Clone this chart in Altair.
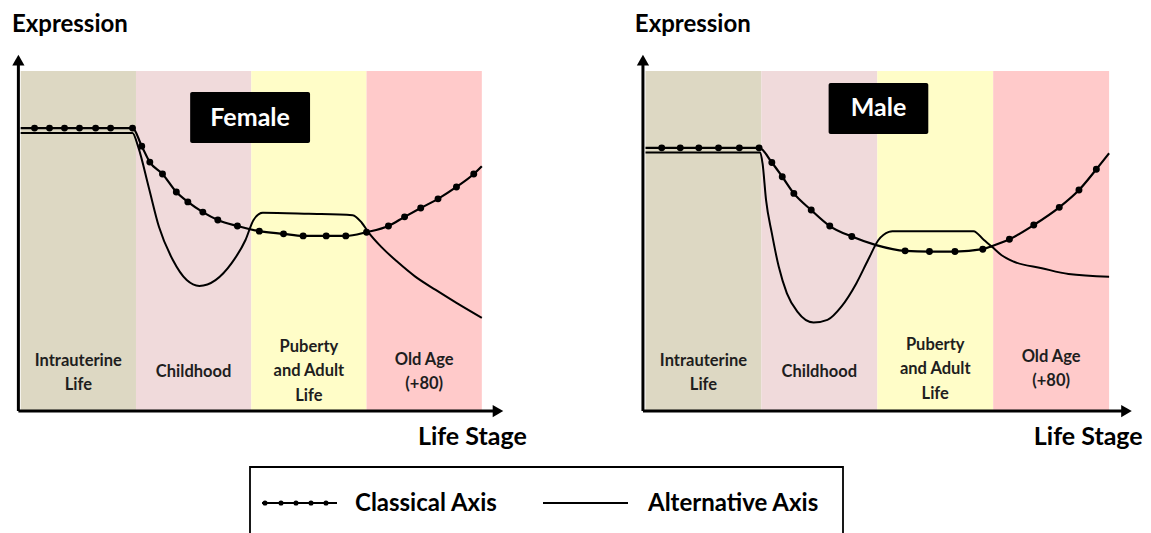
import altair as alt
import pandas as pd

# ---------------- data ----------------
STAGES = ["Intrauterine Life", "Childhood", "Puberty and Adult Life", "Old Age (+80)"]
STAGE_TEXT = ["Intrauterine\nLife", "Childhood", "Puberty\nand Adult\nLife", "Old Age\n(+80)"]
STAGE_START = [0, 1, 2, 3]
STAGE_END = [1, 2, 3, 4]
STAGE_COLORS = ["#DDD8C3", "#F0DADB", "#FFFDC8", "#FFCACA"]

# Female – classical axis (line with dots)
F_CLASS_U = [0.0, 0.12, 0.25, 0.38, 0.51, 0.65, 0.78, 0.97, 1.05, 1.12, 1.23, 1.35, 1.45, 1.58, 1.71,
             1.88, 2.07, 2.28, 2.45, 2.65, 2.82, 3.00, 3.19, 3.33, 3.47, 3.62, 3.78, 3.93, 4.0]
F_CLASS_V = [83.2, 83.2, 83.2, 83.2, 83.2, 83.2, 83.2, 83.2, 77.9, 73.2, 69.7, 64.4, 61.5, 58.5, 56.2,
             54.4, 52.9, 52.1, 51.5, 51.5, 51.5, 52.6, 54.4, 57.1, 59.7, 62.4, 65.9, 69.7, 72.0]
F_CLASS_DOT = [0] + [1] * 27 + [0]

# Female – alternative axis
F_ALT_U = [0.0, 0.97, 1.02, 1.11, 1.20, 1.32, 1.44, 1.55, 1.69, 1.83, 1.95, 2.02, 2.10, 2.50, 2.88,
           2.96, 3.02, 3.13, 3.27, 3.42, 3.60, 3.78, 4.0]
F_ALT_V = [81.8, 81.8, 77.6, 65.9, 54.1, 44.4, 38.5, 36.8, 38.5, 43.5, 50.3, 56.2, 58.3, 58.0, 57.6,
           55.3, 52.4, 48.2, 43.8, 39.6, 35.6, 31.8, 27.4]

# Male – classical axis
M_CLASS_U = [0.0, 0.14, 0.30, 0.46, 0.63, 0.81, 0.98, 1.09, 1.18, 1.28, 1.43, 1.59, 1.78, 1.99, 2.24,
             2.45, 2.67, 2.91, 2.99, 3.14, 3.35, 3.57, 3.74, 3.89, 4.0]
M_CLASS_V = [77.4, 77.4, 77.4, 77.4, 77.4, 77.4, 77.4, 73.1, 68.9, 64.0, 59.1, 54.4, 51.3, 48.8, 47.1,
             46.9, 46.9, 47.6, 48.5, 50.5, 54.7, 59.9, 65.0, 71.1, 75.8]
M_CLASS_DOT = [0, 1, 1, 1, 1, 1, 1, 1, 1, 1, 1, 1, 1, 0, 1, 1, 1, 1, 0, 1, 1, 1, 1, 1, 0]

# Male – alternative axis
M_ALT_U = [0.0, 0.99, 1.01, 1.04, 1.09, 1.15, 1.22, 1.31, 1.45, 1.57, 1.69, 1.82, 1.92, 2.01, 2.10,
           2.13, 2.83, 2.92, 2.99, 3.07, 3.18, 3.42, 3.65, 4.0]
M_ALT_V = [76.0, 76.0, 72.8, 62.1, 52.3, 42.4, 34.6, 29.2, 26.0, 26.8, 30.7, 37.6, 44.4, 50.3, 52.7,
           52.9, 52.9, 50.3, 48.3, 45.9, 43.9, 42.0, 40.3, 39.5]

SERIES = ["Classical Axis", "Alternative Axis"]
PANELS = ["Female", "Male"]

# ---------------- layout / style ----------------
FONT = "Lato"
Y_DOM = [-12.94, 118.53]
PANEL_H = 447


def panel(title, cu, cv, cdot, au, av, x_dom, width, label_v, box, axis_u, arrow_u,
          expr_u, life_u):
    xs = alt.Scale(domain=x_dom, nice=False, zero=False)
    ys = alt.Scale(domain=Y_DOM, nice=False, zero=False)
    X = lambda f: alt.X(f, type="quantitative", scale=xs, axis=None)
    Y = lambda f: alt.Y(f, type="quantitative", scale=ys, axis=None)

    bands_df = pd.DataFrame({"stage": STAGES, "text": STAGE_TEXT, "s": STAGE_START,
                             "e": STAGE_END, "lo": 0, "hi": 100, "lv": label_v})
    bands_df["mid"] = (bands_df["s"] + bands_df["e"]) / 2
    bands = alt.Chart(bands_df).mark_rect(opacity=1).encode(
        x=X("s"), x2="e", y=Y("lo"), y2="hi",
        color=alt.Color("stage:N", scale=alt.Scale(domain=STAGES, range=STAGE_COLORS), legend=None))
    band_text = alt.Chart(bands_df).mark_text(
        font=FONT, fontWeight="bold", fontSize=16.5, lineBreak="\n", lineHeight=24.3,
        baseline="middle", align="center", color="#1e1e1e").encode(
        x=X("mid"), y=Y("lv"), text="text:N")

    cdf = pd.DataFrame({"u": cu, "v": cv, "dot": cdot, "series": SERIES[0]})
    adf = pd.DataFrame({"u": au, "v": av, "series": SERIES[1]})
    cline = alt.Chart(cdf).mark_line(interpolate="monotone", color="black", strokeWidth=2.2).encode(
        x=X("u"), y=Y("v"))
    cdots = alt.Chart(cdf[cdf["dot"] == 1]).mark_circle(size=48, color="black", opacity=1).encode(
        x=X("u"), y=Y("v"))
    aline = alt.Chart(adf).mark_line(interpolate="monotone", color="black", strokeWidth=2).encode(
        x=X("u"), y=Y("v"))

    bdf = pd.DataFrame({"x1": [box[0]], "x2": [box[1]], "y1": [box[2]], "y2": [box[3]],
                        "xm": [(box[0] + box[1]) / 2], "ym": [(box[2] + box[3]) / 2], "t": [title]})
    tbox = alt.Chart(bdf).mark_rect(color="black", cornerRadius=2).encode(
        x=X("x1"), x2="x2", y=Y("y1"), y2="y2")
    ttext = alt.Chart(bdf).mark_text(font=FONT, fontWeight="bold", fontSize=25, color="white",
                                     baseline="middle", align="center").encode(
        x=X("xm"), y=Y("ym"), text="t:N")

    axdf = pd.DataFrame({"x1": [axis_u, axis_u], "x2": [axis_u, arrow_u - 0.03],
                         "y1": [0, 0], "y2": [102.5, 0]})
    axes = alt.Chart(axdf).mark_rule(color="black", strokeWidth=3).encode(
        x=X("x1"), x2="x2", y=Y("y1"), y2="y2")
    up = alt.Chart(pd.DataFrame({"x": [axis_u], "y": [103.2]})).mark_point(
        shape="triangle-up", filled=True, size=150, color="black", opacity=1).encode(x=X("x"), y=Y("y"))
    right = alt.Chart(pd.DataFrame({"x": [arrow_u], "y": [0]})).mark_point(
        shape="triangle-right", filled=True, size=150, color="black", opacity=1).encode(x=X("x"), y=Y("y"))

    expr = alt.Chart(pd.DataFrame({"x": [expr_u], "y": [111.6], "t": ["Expression"]})).mark_text(
        font=FONT, fontWeight="bold", fontSize=24, align="left", baseline="alphabetic", color="black").encode(
        x=X("x"), y=Y("y"), text="t:N")
    life = alt.Chart(pd.DataFrame({"x": [life_u], "y": [-10.0], "t": ["Life Stage"]})).mark_text(
        font=FONT, fontWeight="bold", fontSize=25, align="right", baseline="alphabetic", color="black").encode(
        x=X("x"), y=Y("y"), text="t:N")

    return alt.layer(bands, band_text, aline, cline, cdots, tbox, ttext, axes, up, right, expr, life
                     ).properties(width=width, height=PANEL_H)


# x domains: left panel spans page px 8..634, right panel 634..1143
female = panel("Female", F_CLASS_U, F_CLASS_V, F_CLASS_DOT, F_ALT_U, F_ALT_V,
               [-0.1101, 5.32], 626, [14.7, 11.5, 18.8, 15.0],
               [1.47, 2.51, 78.8, 93.8], -0.02, 4.14, -0.076, 4.39)
male = panel("Male", M_CLASS_U, M_CLASS_V, M_CLASS_DOT, M_ALT_U, M_ALT_V,
             [-0.0992, 4.2925], 509, [14.7, 11.5, 19.4, 15.9],
             [1.58, 2.44, 81.5, 96.5], -0.022, 4.15, -0.092, 4.29)

# ---------------- custom legend ----------------
LW, LH = 1135, 78
lxs = alt.Scale(domain=[0, LW], nice=False, zero=False)
lys = alt.Scale(domain=[0, LH], nice=False, zero=False, reverse=True)
LX = lambda f: alt.X(f, type="quantitative", scale=lxs, axis=None)
LY = lambda f: alt.Y(f, type="quantitative", scale=lys, axis=None)

leg_box = alt.Chart(pd.DataFrame({"x1": [242], "x2": [835], "y1": [12], "y2": [84]})).mark_rect(
    fill="white", stroke="black", strokeWidth=1.8).encode(x=LX("x1"), x2="x2", y=LY("y1"), y2="y2")
leg_lines = alt.Chart(pd.DataFrame({"x1": [254, 535], "x2": [329, 620], "y": [48, 48],
                                    "series": SERIES})).mark_rule(color="black", strokeWidth=2.2).encode(
    x=LX("x1"), x2="x2", y=LY("y"))
leg_dots = alt.Chart(pd.DataFrame({"x": [257, 273, 288, 303, 318], "y": [48] * 5})).mark_circle(
    size=26, color="black", opacity=1).encode(x=LX("x"), y=LY("y"))
leg_text = alt.Chart(pd.DataFrame({"x": [347, 640], "y": [48.5, 48.5], "t": SERIES})).mark_text(
    font=FONT, fontWeight="bold", fontSize=24, align="left", baseline="middle", color="black").encode(
    x=LX("x"), y=LY("y"), text="t:N")
legend = alt.layer(leg_box, leg_lines, leg_dots, leg_text).properties(width=LW, height=LH)

top = alt.hconcat(female, male, spacing=0).resolve_scale(x="independent", y="independent", color="independent")
chart = alt.vconcat(top, legend, spacing=0).resolve_scale(x="independent", y="independent").properties(
    padding=0).configure_view(stroke=None)

chart.save("out.html", embed_options={"renderer": "svg", "actions": False})
